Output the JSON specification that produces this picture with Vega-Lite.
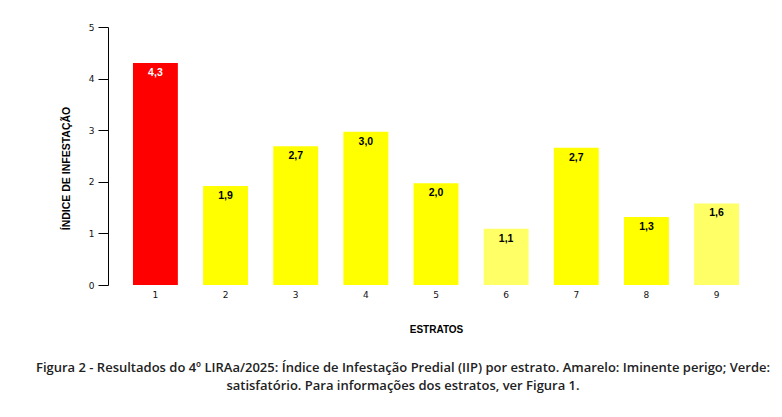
{
  "$schema": "https://vega.github.io/schema/vega-lite/v6.json",
  "autosize": {"type": "none"},
  "width": 656,
  "height": 258,
  "padding": {"left": 108, "top": 27, "right": 18, "bottom": 132},
  "background": "white",
  "config": {
    "view": {"stroke": null},
    "locale": {"number": {"decimal": ",", "thousands": ".", "grouping": [3], "currency": ["R$", ""]}}
  },
  "title": {
    "text": ["Figura 2 - Resultados do 4º LIRAa/2025: Índice de Infestação Predial (IIP) por estrato. Amarelo: Iminente perigo; Verde:", "satisfatório. Para informações dos estratos, ver Figura 1."],
    "orient": "bottom",
    "anchor": "middle",
    "frame": "group",
    "offset": 28,
    "dx": -33,
    "font": "Open Sans",
    "fontSize": 13,
    "fontWeight": 600,
    "color": "#222222",
    "lineHeight": 18
  },
  "data": {
    "values": [
      {"estrato": "1", "iip": 4.30, "classe": "Risco"},
      {"estrato": "2", "iip": 1.92, "classe": "Alerta"},
      {"estrato": "3", "iip": 2.69, "classe": "Alerta"},
      {"estrato": "4", "iip": 2.97, "classe": "Alerta"},
      {"estrato": "5", "iip": 1.97, "classe": "Alerta"},
      {"estrato": "6", "iip": 1.09, "classe": "Alerta baixo"},
      {"estrato": "7", "iip": 2.66, "classe": "Alerta"},
      {"estrato": "8", "iip": 1.32, "classe": "Alerta"},
      {"estrato": "9", "iip": 1.58, "classe": "Alerta baixo"}
    ]
  },
  "encoding": {
    "x": {
      "field": "estrato",
      "type": "ordinal",
      "scale": {"paddingInner": 0.36, "paddingOuter": 0.356},
      "axis": {
        "title": "ESTRATOS",
        "labelAngle": 0,
        "domain": false,
        "ticks": false,
        "labelPadding": 5,
        "labelFont": "DejaVu Sans",
        "labelFontSize": 9,
        "labelColor": "#111111",
        "titleFont": "Liberation Sans, Arial",
        "titleFontSize": 10,
        "titleFontWeight": "bold",
        "titleColor": "#000000",
        "titlePadding": 25
      }
    },
    "y": {
      "field": "iip",
      "type": "quantitative",
      "scale": {"domain": [0, 5], "nice": false},
      "axis": {
        "title": "ÍNDICE DE INFESTAÇÃO",
        "values": [0, 1, 2, 3, 4, 5],
        "grid": false,
        "domainColor": "#000000",
        "tickColor": "#000000",
        "tickSize": 10,
        "labelPadding": 4,
        "labelFont": "DejaVu Sans",
        "labelFontSize": 9,
        "labelColor": "#111111",
        "titleFont": "Liberation Sans, Arial",
        "titleFontSize": 10.5,
        "titleFontWeight": "bold",
        "titleColor": "#000000",
        "titleAngle": 270,
        "titleX": -42,
        "titleY": 141,
        "titleAlign": "center",
        "titleBaseline": "middle"
      }
    }
  },
  "layer": [
    {
      "mark": {"type": "bar"},
      "encoding": {
        "color": {
          "field": "classe",
          "type": "nominal",
          "scale": {"domain": ["Risco", "Alerta", "Alerta baixo"], "range": ["#ff0000", "#ffff00", "#ffff66"]},
          "legend": null
        }
      }
    },
    {
      "mark": {"type": "text", "baseline": "middle", "dy": 10, "font": "Liberation Sans, Arial", "fontSize": 10.5, "fontWeight": "bold"},
      "encoding": {
        "text": {"field": "iip", "type": "quantitative", "format": ".1f"},
        "color": {"condition": {"test": "datum.classe === 'Risco'", "value": "#ffffff"}, "value": "#000000"}
      }
    }
  ]
}
